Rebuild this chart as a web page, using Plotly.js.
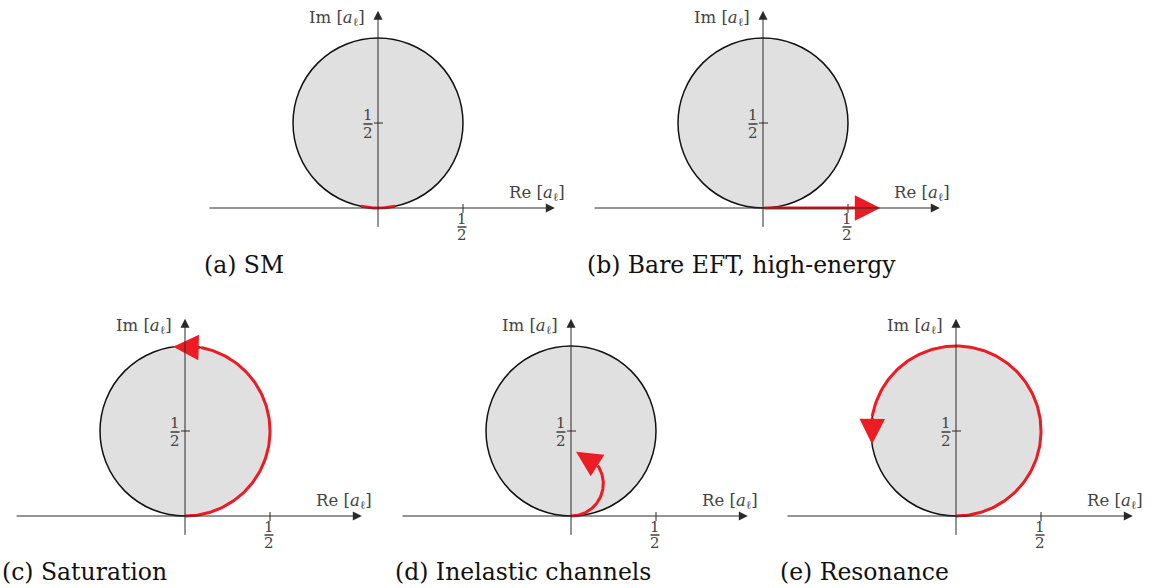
<!DOCTYPE html>
<html>
<head>
<meta charset="utf-8">
<script src="https://cdn.plot.ly/plotly-3.0.1.min.js"></script>
<style>
  html, body { margin: 0; padding: 0; background: #fff; }
  #chart { width: 1157px; height: 588px; }
</style>
</head>
<body>
<div id="chart"></div>
<script>
// Argand diagrams of a partial-wave amplitude a_ℓ in five regimes.
const panelIds = ['a', 'b', 'c', 'd', 'e'];
const captions = ['(a) SM', '(b) Bare EFT, high-energy', '(c) Saturation', '(d) Inelastic channels', '(e) Resonance'];

// unitarity circle |a − i/2| = 1/2
const circleCenterY = 0.5;
const circleRadius = 0.5;

// red trajectories drawn as arcs: centre height, radius, start / end angle (deg, from the arc centre)
const pathCenterY = [0.5, null, 0.5, 0.19, 0.5];
const pathRadius = [0.5, null, 0.5, 0.19, 0.5];
const pathStartDeg = [-101.5, null, -90, -90, -90];
const pathEndDeg = [-78.5, null, 79, 34, 170];
const arrowTipDeg = [null, null, 98, 81, 189];

// straight trajectory along the real axis
const straightPathEnd = [null, 0.69, null, null, null];

// axes and ticks
const reAxisExtent = [-1.0, 1.04];
const imAxisExtent = [-0.12, 1.16];
const tickValue = 0.5;
const tickNumerator = '1';
const tickDenominator = '2';
const reLabel = 'Re [<i>a</i><sub>ℓ</sub>]';
const imLabel = 'Im [<i>a</i><sub>ℓ</sub>]';

// ---- page geometry (pixels) ----
const W = 1157, H = 588;
const S = 170;                       // pixels per unit on both axes
const frames = [
  { ox: 378, oy: 208, L: 190, R: 580, T: 0,   B: 250, capX: 202, capY: 265 },
  { ox: 763, oy: 208, L: 580, R: 960, T: 0,   B: 250, capX: 585, capY: 265 },
  { ox: 185, oy: 516, L: 0,   R: 385, T: 300, B: 555, capX: 0,   capY: 572 },
  { ox: 571, oy: 516, L: 385, R: 770, T: 300, B: 555, capX: 393, capY: 572 },
  { ox: 956, oy: 516, L: 770, R: 1157, T: 300, B: 555, capX: 778, capY: 572 }
];

const RED = '#ec1c24';
const AXIS = '#2a2a2a';
const TEXT = '#444444';
const SERIF = 'DejaVu Serif, Liberation Serif, serif';
const px = v => v / S;               // pixel offset -> data units
const rad = d => d * Math.PI / 180;

const redHead = { arrowhead: 2, arrowsize: 1.7, arrowwidth: 3, arrowcolor: RED };
const axisHead = { arrowhead: 2, arrowsize: 1.8, arrowwidth: 1, arrowcolor: AXIS };

const traces = [];
const shapes = [];
const annotations = [];
const layout = {
  width: W, height: H,
  margin: { l: 0, r: 0, t: 0, b: 0 },
  paper_bgcolor: '#fff', plot_bgcolor: 'rgba(0,0,0,0)',
  showlegend: false,
  hovermode: false
};

panelIds.forEach((id, i) => {
  const f = frames[i];
  const sfx = i === 0 ? '' : String(i + 1);
  const xr = 'x' + sfx, yr = 'y' + sfx;

  layout['xaxis' + sfx] = {
    domain: [f.L / W, f.R / W],
    range: [(f.L - f.ox) / S, (f.R - f.ox) / S],
    visible: false, fixedrange: true, anchor: yr
  };
  layout['yaxis' + sfx] = {
    domain: [1 - f.B / H, 1 - f.T / H],
    range: [(f.oy - f.B) / S, (f.oy - f.T) / S],
    visible: false, fixedrange: true, anchor: xr
  };

  // shaded unitarity disc
  shapes.push({
    type: 'circle', xref: xr, yref: yr, layer: 'below',
    x0: -circleRadius, x1: circleRadius,
    y0: circleCenterY - circleRadius, y1: circleCenterY + circleRadius,
    fillcolor: '#e0e0e0', line: { color: '#111', width: 1.5 }
  });

  // red arc trajectory
  if (pathRadius[i] !== null) {
    const cy = pathCenterY[i], r = pathRadius[i];
    const a0 = pathStartDeg[i], a1 = pathEndDeg[i];
    const n = Math.max(12, Math.ceil(Math.abs(a1 - a0) / 1.5));
    const xs = [], ys = [];
    for (let k = 0; k <= n; k++) {
      const a = rad(a0 + (a1 - a0) * k / n);
      xs.push(r * Math.cos(a));
      ys.push(cy + r * Math.sin(a));
    }
    traces.push({
      type: 'scatter', mode: 'lines', x: xs, y: ys, xaxis: xr, yaxis: yr,
      line: { color: RED, width: 3 }, hoverinfo: 'skip'
    });
    if (arrowTipDeg[i] !== null) {
      annotations.push(Object.assign({
        xref: xr, yref: yr, axref: xr, ayref: yr, text: '',
        x: r * Math.cos(rad(arrowTipDeg[i])), y: cy + r * Math.sin(rad(arrowTipDeg[i])),
        ax: r * Math.cos(rad(a1)), ay: cy + r * Math.sin(rad(a1)),
        showarrow: true
      }, redHead));
    }
  }

  // red straight trajectory
  if (straightPathEnd[i] !== null) {
    annotations.push(Object.assign({
      xref: xr, yref: yr, axref: xr, ayref: yr, text: '',
      x: straightPathEnd[i], y: 0, ax: 0, ay: 0, showarrow: true
    }, redHead));
  }

  // coordinate axes with arrow tips
  annotations.push(Object.assign({
    xref: xr, yref: yr, axref: xr, ayref: yr, text: '',
    x: reAxisExtent[1], y: 0, ax: reAxisExtent[0], ay: 0, showarrow: true
  }, axisHead));
  annotations.push(Object.assign({
    xref: xr, yref: yr, axref: xr, ayref: yr, text: '',
    x: 0, y: imAxisExtent[1], ax: 0, ay: imAxisExtent[0], showarrow: true
  }, axisHead));

  // tick marks at 1/2 on both axes
  shapes.push({
    type: 'line', xref: xr, yref: yr, layer: 'above',
    x0: tickValue, x1: tickValue, y0: px(4), y1: px(-5),
    line: { color: AXIS, width: 1 }
  });
  shapes.push({
    type: 'line', xref: xr, yref: yr, layer: 'above',
    x0: px(-4), x1: px(5), y0: tickValue, y1: tickValue,
    line: { color: AXIS, width: 1 }
  });

  const fracFont = { family: SERIF, size: 15, color: TEXT };

  // fraction label under the real-axis tick
  const fx = tickValue - px(1);
  annotations.push({ xref: xr, yref: yr, x: fx, y: px(-11), text: tickNumerator, showarrow: false,
    xanchor: 'center', yanchor: 'middle', font: fracFont });
  shapes.push({ type: 'line', xref: xr, yref: yr, layer: 'above',
    x0: fx - px(4.5), x1: fx + px(4.5), y0: px(-19), y1: px(-19), line: { color: '#222', width: 1.3 } });
  annotations.push({ xref: xr, yref: yr, x: fx, y: px(-26.5), text: tickDenominator, showarrow: false,
    xanchor: 'center', yanchor: 'middle', font: fracFont });

  // fraction label left of the imaginary-axis tick
  const gx = px(-10);
  annotations.push({ xref: xr, yref: yr, x: gx, y: tickValue + px(8), text: tickNumerator, showarrow: false,
    xanchor: 'center', yanchor: 'middle', font: fracFont });
  shapes.push({ type: 'line', xref: xr, yref: yr, layer: 'above',
    x0: gx - px(4.5), x1: gx + px(4.5), y0: tickValue - px(1), y1: tickValue - px(1),
    line: { color: '#222', width: 1.3 } });
  annotations.push({ xref: xr, yref: yr, x: gx, y: tickValue - px(9.5), text: tickDenominator, showarrow: false,
    xanchor: 'center', yanchor: 'middle', font: fracFont });

  // axis labels
  annotations.push({ xref: xr, yref: yr, x: px(189), y: px(15), text: reLabel, showarrow: false,
    xanchor: 'right', yanchor: 'middle', font: { family: SERIF, size: 16.5, color: TEXT } });
  annotations.push({ xref: xr, yref: yr, x: px(-11), y: 1.115, text: imLabel, showarrow: false,
    xanchor: 'right', yanchor: 'middle', font: { family: SERIF, size: 16.5, color: TEXT } });

  // caption
  annotations.push({ xref: 'paper', yref: 'paper', x: f.capX / W, y: 1 - f.capY / H,
    text: captions[i], showarrow: false, xanchor: 'left', yanchor: 'middle',
    font: { family: SERIF, size: 23.5, color: '#111' } });
});

layout.shapes = shapes;
layout.annotations = annotations;

Plotly.newPlot('chart', traces, layout, { displayModeBar: false, staticPlot: true });
</script>
</body>
</html>
